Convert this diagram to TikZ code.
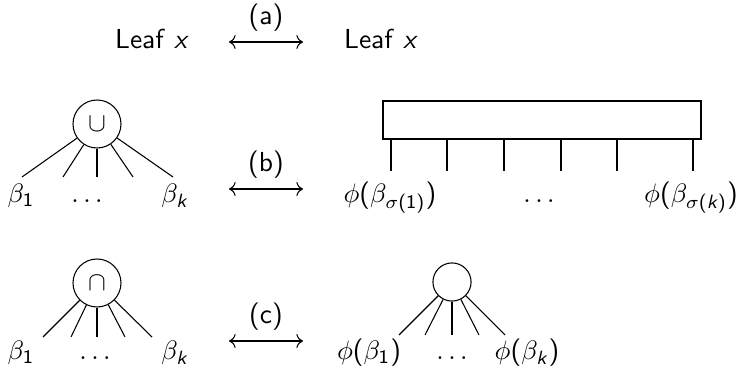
\documentclass[tikz,border=0pt]{standalone}
\usepackage{amsmath, amssymb}
\usepackage{tikz}
\usetikzlibrary{positioning, arrows.meta}
\newcommand{\sfi}[1]{\textsf{\textit{#1}}}

\begin{document}
\begin{tikzpicture}[x=0.375pt, y=-0.375pt,
    every node/.style={font=\sffamily\fontsize{10.3}{12.4}\selectfont},
    op/.style={circle, draw, inner sep=0pt, minimum size=18pt},
    dot/.style={circle, draw, inner sep=0pt, minimum size=14.3pt},
    lbl/.style={anchor=base}]
      \useasboundingbox (0,0) rectangle (739,370);
      % (a) leaves
      \node[lbl] (la) at (152,49) {Leaf \sfi{x}};
      \node[lbl] (ra) at (381,49) {Leaf \sfi{x}};
      \coordinate (a1) at (229,42);
      \coordinate (a2) at (303,42);
      \draw[<->] (a1) -- (a2) node[midway, above=0.5pt] (ta) {(a)};
      % (b) union
      \node[op] (u) at (97,124) {$\cup$};
      \coordinate (u1) at (22,177);
      \coordinate (u2) at (63,177);
      \coordinate (u3) at (97,177);
      \coordinate (u4) at (133,177);
      \coordinate (u5) at (173,177);
      \foreach \i in {1,...,5} \draw (u) -- (u\i);
      \node[lbl] (ub1) at (21,203) {$\beta_{\textsf{1}}$};
      \node[lbl] (ud) at (87,203) {$\ldots$};
      \node[lbl] (ubk) at (175,203) {$\beta_{\sfi{k}}$};
      \coordinate (b1) at (229,189);
      \coordinate (b2) at (303,189);
      \draw[<->] (b1) -- (b2) node[midway, above=0.5pt] (tb) {(b)};
      \node[draw, minimum width=119.25pt, minimum height=14.25pt,
            inner sep=0pt] (box) at (542,120) {};
      \foreach \x [count=\i] in {391,447,504,561,617,693} {
        \coordinate (s\i) at (\x,171);
        \draw (box.south -| s\i) -- (s\i);
      }
      \node[lbl] (sb1) at (390,203) {$\phi\textsf{(}\beta_{\sigma\textsf{(1)}}\textsf{)}$};
      \node[lbl] (sd) at (539,203) {$\ldots$};
      \node[lbl] (sbk) at (691,203) {$\phi\textsf{(}\beta_{\sigma\textsf{(}\sfi{k}\textsf{)}}\textsf{)}$};
      % (c) intersection
      \node[op] (n) at (97,283) {$\cap$};
      \coordinate (n1) at (43,337);
      \coordinate (n2) at (71,337);
      \coordinate (n3) at (97,337);
      \coordinate (n4) at (125,337);
      \coordinate (n5) at (152,337);
      \foreach \i in {1,...,5} \draw (n) -- (n\i);
      \node[lbl] (nb1) at (21,360) {$\beta_{\textsf{1}}$};
      \node[lbl] (nd) at (95,360) {$\ldots$};
      \node[lbl] (nbk) at (175,360) {$\beta_{\sfi{k}}$};
      \coordinate (c1) at (229,341);
      \coordinate (c2) at (303,341);
      \draw[<->] (c1) -- (c2) node[midway, above=0.5pt] (tc) {(c)};
      \node[dot] (m) at (452,282) {};
      \coordinate (m1) at (399,335);
      \coordinate (m2) at (425,335);
      \coordinate (m3) at (452,335);
      \coordinate (m4) at (479,335);
      \coordinate (m5) at (505,335);
      \foreach \i in {1,...,5} \draw (m) -- (m\i);
      \node[lbl] (mb1) at (369,360) {$\phi\textsf{(}\beta_{\textsf{1}}\textsf{)}$};
      \node[lbl] (md) at (452,360) {$\ldots$};
      \node[lbl] (mbk) at (527,360) {$\phi\textsf{(}\beta_{\sfi{k}}\textsf{)}$};
    \end{tikzpicture}
\end{document}
